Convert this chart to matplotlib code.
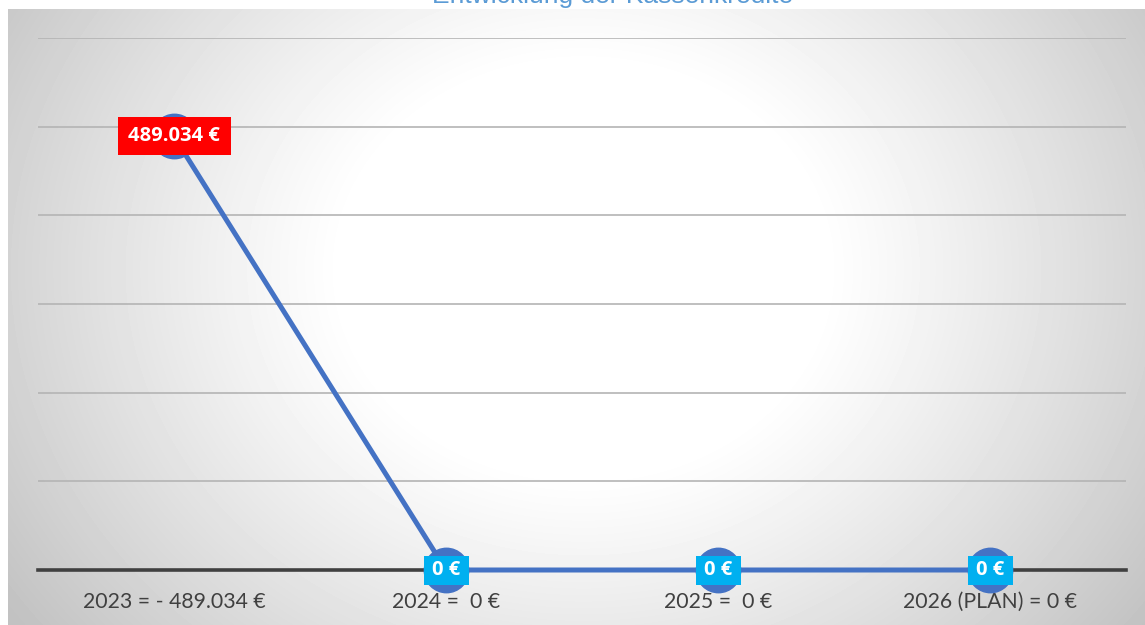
import numpy as np
import matplotlib.pyplot as plt
from matplotlib.patches import Rectangle
from matplotlib.transforms import ScaledTranslation

# --- data ---
categories = ["2023 = - 489.034 €", "2024 =  0 €", "2025 =  0 €", "2026 (PLAN) = 0 €"]
kassenkredite = [489034, 0, 0, 0]
value_labels = ["489.034 €", "0 €", "0 €", "0 €"]
label_colors = ["#FF0000", "#00B0F0", "#00B0F0", "#00B0F0"]
# label box sizes in inches (w, h)
box_sizes = [(1.13, 0.38), (0.45, 0.29), (0.45, 0.29), (0.45, 0.29)]

W, H = 1145, 625
fig = plt.figure(figsize=(W / 100, H / 100), dpi=100)
fig.patch.set_facecolor("white")

# --- radial gradient background ---
bg = fig.add_axes([8 / W, 0, 1 - 8 / W, 1 - 9 / H], zorder=-2)
bw, bh = W - 8, H - 9
xx, yy = np.meshgrid(np.arange(bw), np.arange(bh))
cx, cy = 575, 260
r = np.sqrt(((xx - cx) / 1.0) ** 2 + ((yy - cy) / 0.85) ** 2)
t = np.clip((r - 240) / 460, 0, 1)
shade = 1.0 - 0.24 * t ** 1.1
bg.imshow(shade, cmap="gray", vmin=0, vmax=1, aspect="auto",
          extent=[0, bw, bh, 0], interpolation="bilinear")
bg.axis("off")

# --- main axes ---
ax = fig.add_axes([38 / W, 1 - 570 / H, (1126 - 38) / W, (570 - 38) / H])
ax.set_facecolor("none")
x = np.arange(len(categories))

ax.set_xlim(-0.5, len(categories) - 0.5)
ax.set_ylim(0, 600000)
ax.set_yticks(np.arange(0, 600001, 100000))
ax.yaxis.grid(True, color="#b4b4b4", linewidth=1.2)
ax.set_axisbelow(True)
ax.tick_params(axis="y", left=False, labelleft=False)
for s in ax.spines.values():
    s.set_visible(False)
ax.axhline(0, color="#404040", linewidth=2.6, zorder=1, clip_on=False)

ax.plot(x, kassenkredite, color="#4472C4", linewidth=3.6, marker="o",
        markersize=32, markerfacecolor="#4472C4", markeredgecolor="#4472C4",
        zorder=3, clip_on=False)

for xi, v, lab, c, (bwi, bhi) in zip(x, kassenkredite, value_labels, label_colors, box_sizes):
    tr = fig.dpi_scale_trans + ScaledTranslation(xi, v, ax.transData)
    ax.add_patch(Rectangle((-bwi / 2, -bhi / 2), bwi, bhi, transform=tr,
                           facecolor=c, edgecolor="none", zorder=4, clip_on=False))
    ax.text(xi, v, lab, ha="center", va="center", color="white",
            fontsize=14.5, fontweight="bold", family="Open Sans", zorder=5)

ax.set_xticks(x)
ax.set_xticklabels(categories, fontsize=15.3, color="#404040", family="Lato")
ax.tick_params(axis="x", length=0, pad=16)

# title (mostly cut off at the top, as in the original)
fig.text(613 / W, 1 - 3 / H, "Entwicklung der Kassenkredite", ha="center",
         va="baseline", fontsize=19, color="#5B9BD5", family="Liberation Sans")

fig.savefig("out.png", dpi=100)
